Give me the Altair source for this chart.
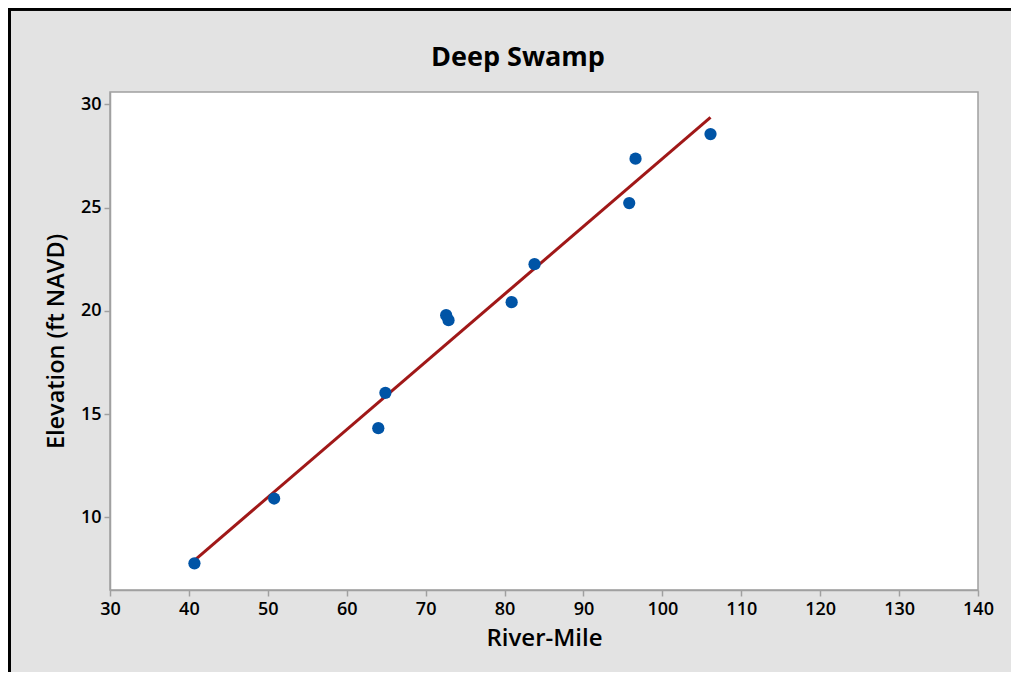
import altair as alt
import pandas as pd

river_mile = [40.7, 50.8, 64.0, 64.9, 72.6, 72.9, 80.9, 83.8, 95.8, 96.6, 106.1]
elevation = [7.77, 10.91, 14.32, 16.03, 19.79, 19.55, 20.42, 22.26, 25.22, 27.37, 28.56]
x_ticks = [30, 40, 50, 60, 70, 80, 90, 100, 110, 120, 130, 140]
y_ticks = [10, 15, 20, 25, 30]
chart_title = "Deep Swamp"

df = pd.DataFrame({"x": river_mile, "y": elevation})

FONT = "Open Sans"
GRAY = "#a0a0a0"

xs = alt.Scale(domain=[30, 140], nice=False, zero=False)
ys = alt.Scale(domain=[6.48, 30.6], nice=False, zero=False)

xax = alt.Axis(values=x_ticks, grid=False, title="River-Mile", domainColor=GRAY,
               domainWidth=1.5, tickColor=GRAY, tickWidth=1.5, tickSize=6,
               labelFontSize=18, labelColor="black", labelPadding=4, labelFont=FONT,
               labelFontWeight=600, labelFlush=False, labelOverlap=False,
               titleFont=FONT, titleFontSize=24, titleFontWeight=600, titleColor="black",
               titlePadding=8)
yax = alt.Axis(values=y_ticks, grid=False, title="Elevation (ft NAVD)", domainColor=GRAY,
               domainWidth=1.5, tickColor=GRAY, tickWidth=1.5, tickSize=6,
               labelFontSize=18, labelColor="black", labelPadding=3, labelFont=FONT,
               labelFontWeight=600, labelFlush=False, labelOverlap=False,
               titleFont=FONT, titleFontSize=23.5, titleFontWeight=600, titleColor="black",
               titlePadding=12)

base = alt.Chart(df)

points = base.mark_circle(size=150, opacity=1, color="#0054a6").encode(
    x=alt.X("x:Q", scale=xs, axis=xax),
    y=alt.Y("y:Q", scale=ys, axis=yax),
)

fit = base.transform_regression("x", "y").mark_line(color="#a01818", strokeWidth=3).encode(
    x=alt.X("x:Q", scale=xs),
    y=alt.Y("y:Q", scale=ys),
)

left_border = base.mark_rule(color="black", strokeWidth=3).encode(
    x=alt.value(-100.5), y=alt.value(-84), y2=alt.value(580)
)
top_border = base.mark_rule(color="black", strokeWidth=2.5).encode(
    x=alt.value(-102), x2=alt.value(901), y=alt.value(-83)
)

title = alt.Chart(pd.DataFrame({"t": [chart_title]})).mark_text(
    font=FONT, fontSize=27, fontWeight="bold", color="black",
    align="center", baseline="alphabetic"
).encode(text="t:N", x=alt.value(408), y=alt.value(-26))

chart = alt.layer(left_border, top_border, fit, points, title).properties(
    width=868,
    height=498,
    background="#e3e3e3",
    padding={"left": 102, "top": 84, "right": 33, "bottom": 82},
    autosize=alt.AutoSizeParams(type="none"),
).configure_view(fill="white", stroke=GRAY, strokeWidth=1.5)

chart.save("out.html", embed_options={"renderer": "svg", "actions": False})
